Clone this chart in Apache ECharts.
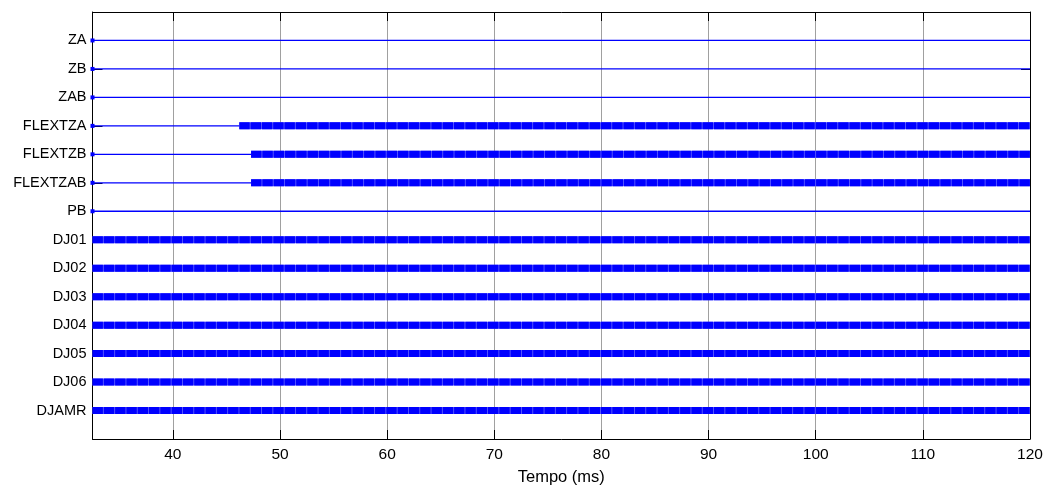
<!DOCTYPE html>
<html>
<head>
<meta charset="utf-8">
<script src="https://cdn.jsdelivr.net/npm/echarts@6/dist/echarts.min.js"></script>
<style>
html,body{margin:0;padding:0;background:#fff;}
#c{width:1048px;height:491px;}
</style>
</head>
<body>
<div id="c"></div>
<script>
// Row labels (top to bottom)
const rowNames = ['ZA','ZB','ZAB','FLEXTZA','FLEXTZB','FLEXTZAB','PB','DJ01','DJ02','DJ03','DJ04','DJ05','DJ06','DJAMR'];
// Time where each row's signal trace starts / ends (ms)
const traceStart = [32.5,32.5,32.5,32.5,32.5,32.5,32.5,32.5,32.5,32.5,32.5,32.5,32.5,32.5];
const traceEnd = [120,120,120,120,120,120,120,120,120,120,120,120,120,120];
// Time where the dense (toggling) part begins; null = never
const denseStart = [null,null,null,46.2,47.3,47.3,null,32.5,32.5,32.5,32.5,32.5,32.5,32.5];
// Axis ticks
const xTicks = [40,50,60,70,80,90,100,110,120];
const xMin = 32.5, xMax = 120;

const font = 'Liberation Sans, Arial, sans-serif';
const series = [];
rowNames.forEach((name, i) => {
  const y = i + 1;
  const s = traceStart[i], e = traceEnd[i], d = denseStart[i];
  if (d === null || d > s) {
    series.push({
      type: 'line', name: name + ' thin', z: 3,
      data: [{value: [s, y], symbol: 'rect', symbolSize: 4}, {value: [d === null ? e : d, y], symbol: 'none'}],
      showSymbol: true, symbol: 'none',
      lineStyle: {color: '#0000ff', width: 1.3},
      itemStyle: {color: '#0000ff'},
      silent: true
    });
  }
  if (d !== null) {
    series.push({
      type: 'line', name: name + ' base', z: 4,
      data: [[d, y], [e, y]], symbol: 'none',
      lineStyle: {color: '#5a5aff', width: 7, cap: 'butt'},
      silent: true
    });
    series.push({
      type: 'line', name: name + ' dense', z: 5,
      data: [[d, y], [e, y]], symbol: 'none',
      lineStyle: {color: '#0000ff', width: 7, type: [10.4, 0.9], cap: 'butt'},
      silent: true
    });
  }
});

const yVals = rowNames.map((_, i) => i + 1);
const chart = echarts.init(document.getElementById('c'), null, {renderer: 'canvas'});
chart.setOption({
  animation: false,
  backgroundColor: '#ffffff',
  grid: {left: 92.5, right: 18, top: 12, bottom: 48, containLabel: false},
  xAxis: [{
    type: 'value', min: xMin, max: xMax, position: 'bottom',
    name: 'Tempo (ms)', nameLocation: 'middle', nameGap: 30,
    nameTextStyle: {fontFamily: font, fontSize: 16.5, color: '#000'},
    axisLine: {show: true, onZero: false, lineStyle: {color: '#000', width: 1}},
    axisTick: {show: true, inside: true, length: 9, customValues: xTicks, lineStyle: {color: '#000'}},
    axisLabel: {show: true, customValues: xTicks, fontFamily: font, fontSize: 15.5, color: '#000', margin: 8},
    splitLine: {show: true, lineStyle: {color: '#a0a0a0', width: 1}}
  }, {
    type: 'value', min: xMin, max: xMax, position: 'top',
    axisLine: {show: true, onZero: false, lineStyle: {color: '#000', width: 1}},
    axisTick: {show: true, inside: true, length: 9, customValues: xTicks, lineStyle: {color: '#000'}},
    axisLabel: {show: false},
    splitLine: {show: false}
  }],
  yAxis: [{
    type: 'value', min: 0, max: 15, inverse: true, position: 'left',
    axisLine: {show: true, onZero: false, lineStyle: {color: '#000', width: 1}},
    axisTick: {show: true, inside: true, length: 10, customValues: yVals, lineStyle: {color: '#000'}},
    axisLabel: {show: true, customValues: yVals, fontFamily: font, fontSize: 14.5, color: '#000', margin: 6,
      formatter: v => rowNames[Math.round(v) - 1] || ''},
    splitLine: {show: false}
  }, {
    type: 'value', min: 0, max: 15, inverse: true, position: 'right',
    axisLine: {show: true, onZero: false, lineStyle: {color: '#000', width: 1}},
    axisTick: {show: true, inside: true, length: 9, customValues: yVals, lineStyle: {color: '#000'}},
    axisLabel: {show: false},
    splitLine: {show: false}
  }],
  series: series
});
</script>
</body>
</html>
